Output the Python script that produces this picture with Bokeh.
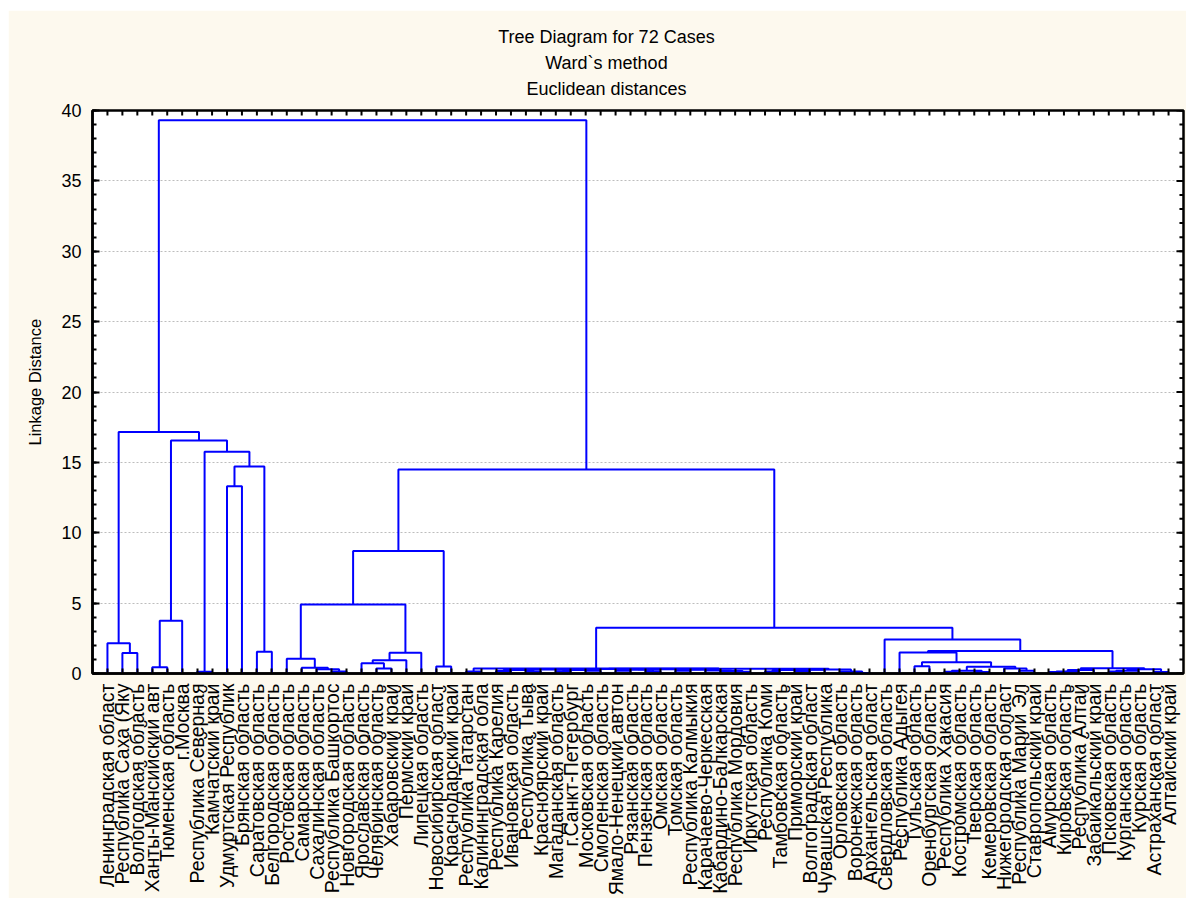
import math
from bokeh.plotting import figure
from bokeh.models import LinearAxis, FixedTicker, Grid, Title, Range1d, ColumnDataSource
from bokeh.embed import file_html
from bokeh.resources import INLINE

# ---------------- data ----------------
leaf_labels = [
    "Ленинградская област", "Республика Саха (Яку", "Вологодская область",
    "Ханты-Мансийский авт", "Тюменская область", "г.Москва",
    "Республика Северная", "Камчатский край", "Удмуртская Республик",
    "Брянская область", "Саратовская область", "Белгородская область",
    "Ростовская область", "Самарская область", "Сахалинская область",
    "Республика Башкортос", "Новгородская область", "Ярославская область",
    "Челябинская область", "Хабаровский край", "Пермский край",
    "Липецкая область", "Новосибирская област", "Краснодарский край",
    "Республика Татарстан", "Калининградская обла", "Республика Карелия",
    "Ивановская область", "Республика Тыва", "Красноярский край",
    "Магаданская область", "г.Санкт-Петербург", "Московская область",
    "Смоленская область", "Ямало-Ненецкий автон", "Рязанская область",
    "Пензенская область", "Омская область", "Томская область",
    "Республика Калмыкия", "Карачаево-Черкесская", "Кабардино-Балкарская",
    "Республика Мордовия", "Иркутская область", "Республика Коми",
    "Тамбовская область", "Приморский край", "Волгоградская област",
    "Чувашская Республика", "Орловская область", "Воронежская область",
    "Архангельская област", "Свердловская область", "Республика Адыгея",
    "Тульская область", "Оренбургская область", "Республика Хакасия",
    "Костромская область", "Тверская область", "Кемеровская область",
    "Нижегородская област", "Республика Марий Эл", "Ставропольский край",
    "Амурская область", "Кировская область", "Республика Алтай",
    "Забайкальский край", "Псковская область", "Курганская область",
    "Курская область", "Астраханская област", "Алтайский край",
]

# merges: leaves are 1..72 (order on the axis), "mK" is the K-th merge
merge_a = [2, 1, 4, "m2", 7, 9, 11, "m5", "m4", "m3", "m1",
           16, 15, 14, 13, 19, 18, "m16", "m17", "m14", 23, "m19",
           25, 27, 29, "m23", 31, 33, "m26", "m25",
           35, 37, "m30", 43, 42, 41, 39, "m36", "m32", "m29",
           45, 47, "m40", "m42", 51, 50, "m43", "m39", "m22",
           55, 57, 59, "m50", 62, 61, "m52", "m49", 54,
           64, "m58", "m59", 68, "m61", 71, "m62", "m60", "m57", 53, "m48", "m21", "m10"]
merge_b = [3, "m0", 5, 6, 8, 10, 12, "m6", "m7", "m8", "m9",
           17, "m11", "m12", "m13", 20, "m15", 21, 22, "m18", 24, "m20",
           26, 28, 30, "m24", 32, 34, "m27", "m28",
           36, 38, "m31", 44, "m33", "m34", 40, "m35", "m37", "m38",
           46, 48, "m41", 49, 52, "m44", "m45", "m46", "m47",
           56, 58, 60, "m51", 63, "m53", "m54", "m55", "m56",
           65, 66, 67, 69, 70, 72, "m63", "m64", "m65", "m66", "m67", "m68", "m69"]
merge_h = [1.45, 2.15, 0.45, 3.75, 0.12, 13.3, 1.55, 14.7, 15.75, 16.55, 17.15,
           0.15, 0.30, 0.40, 1.05, 0.36, 0.72, 0.95, 1.47, 4.9, 0.5, 8.7,
           0.15, 0.18, 0.14, 0.24, 0.16, 0.20, 0.24, 0.29,
           0.20, 0.16, 0.26, 0.12, 0.18, 0.22, 0.20, 0.26, 0.30, 0.32,
           0.15, 0.18, 0.24, 0.27, 0.03, 0.14, 0.29, 0.33, 0.36,
           0.52, 0.12, 0.10, 0.20, 0.20, 0.35, 0.48, 0.80, 1.50,
           0.10, 0.15, 0.25, 0.15, 0.20, 0.10, 0.30, 0.38, 1.60, 2.42, 3.25, 14.5, 39.3]

y_major = [0, 5, 10, 15, 20, 25, 30, 35, 40]
y_minor = list(range(0, 41))
grid_vals = [5, 10, 15, 20, 25, 30, 35]
leaf_pos = list(range(1, len(leaf_labels) + 1))
title_lines = ["Tree Diagram for 72 Cases", "Ward`s method", "Euclidean distances"]
y_title = "Linkage Distance"

# ---------------- build dendrogram segments ----------------
xpos = {i: i for i in leaf_pos}
hpos = {i: 0.0 for i in leaf_pos}
xs, ys = [], []
for k, (a, b, h) in enumerate(zip(merge_a, merge_b, merge_h)):
    xa, xb = xpos[a], xpos[b]
    ha, hb = hpos[a], hpos[b]
    xs.append([xa, xa, xb, xb])
    ys.append([ha, h, h, hb])
    xpos["m%d" % k] = (xa + xb) / 2.0
    hpos["m%d" % k] = h

FONT = "Liberation Sans"
CREAM = "#FDF9EE"
X_MAX = len(leaf_labels) + 1
Y_MAX = y_major[-1]

p = figure(width=1178, height=888, x_range=Range1d(0, X_MAX), y_range=Range1d(0, Y_MAX),
           output_backend="svg", toolbar_location=None, title=None,
           x_axis_location=None, y_axis_location=None,
           min_border_left=84, min_border_right=3, min_border_top=100, min_border_bottom=223)
p.margin = (10, 8, 2, 8)
p.background_fill_color = "white"
p.border_fill_color = CREAM
p.outline_line_color = "black"
p.outline_line_width = 2.5
for r in list(p.center):
    if isinstance(r, Grid):
        r.visible = False

# dashed horizontal grid
g = Grid(dimension=1, ticker=FixedTicker(ticks=grid_vals),
         grid_line_color="#bdbdbd", grid_line_dash="2 2", grid_line_width=1)
p.add_layout(g)

# bottom axis with region names
xb = LinearAxis(ticker=FixedTicker(ticks=leaf_pos),
                major_label_overrides={i: lab for i, lab in zip(leaf_pos, leaf_labels)})
xb.major_label_orientation = math.pi / 2
xb.major_label_text_font = FONT
xb.major_label_text_font_size = "19.5px"
xb.major_label_text_color = "black"
xb.major_tick_in = 5
xb.major_tick_out = 0
xb.major_tick_line_width = 2
xb.axis_line_width = 2.5
xb.major_label_standoff = 10
p.add_layout(xb, "below")

# left axis
yl = LinearAxis(ticker=FixedTicker(ticks=y_major, minor_ticks=y_minor))
yl.major_label_text_font = FONT
yl.major_label_text_font_size = "18px"
yl.major_label_text_color = "black"
yl.major_tick_in = 7
yl.major_tick_out = 0
yl.minor_tick_in = 4
yl.minor_tick_out = 0
yl.major_tick_line_width = 2
yl.minor_tick_line_width = 2
yl.axis_line_width = 2.5
yl.major_label_standoff = 11
p.add_layout(yl, "left")

# y-axis title as a left-side title (offset moves it along the axis)
p.add_layout(Title(text=y_title, align="left", offset=228, text_font=FONT,
                   text_font_size="16.5px", text_font_style="normal",
                   text_color="black", standoff=29), "left")

# three title lines: one label each on label-only axes stacked above the frame
title_x = 34.39          # horizontal centre of the title block (x data units)
title_standoffs = [3, 3, 12]
for txt, so in reversed(list(zip(title_lines, title_standoffs))):
    ta = LinearAxis(ticker=FixedTicker(ticks=[title_x]),
                    major_label_overrides={title_x: txt})
    ta.axis_line_color = None
    ta.major_tick_line_color = None
    ta.minor_tick_line_color = None
    ta.major_tick_in = 0
    ta.major_tick_out = 0
    ta.major_label_standoff = so
    ta.major_label_text_font = FONT
    ta.major_label_text_font_size = "18px"
    ta.major_label_text_color = "black"
    p.add_layout(ta, "above")

# top / right tick marks (ticks only, no labels)
top_len = 0.35      # ~5 px in y units
right_major = 0.47  # ~7 px in x units
right_minor = 0.27  # ~4 px in x units
p.segment(x0=leaf_pos, y0=[Y_MAX] * len(leaf_pos), x1=leaf_pos, y1=[Y_MAX - top_len] * len(leaf_pos),
          line_color="black", line_width=2)
p.segment(x0=[X_MAX] * len(y_major), y0=y_major, x1=[X_MAX - right_major] * len(y_major), y1=y_major,
          line_color="black", line_width=2)
p.segment(x0=[X_MAX] * len(y_minor), y0=y_minor, x1=[X_MAX - right_minor] * len(y_minor), y1=y_minor,
          line_color="black", line_width=2)

# dendrogram
src = ColumnDataSource(data=dict(xs=xs, ys=ys))
p.multi_line(xs="xs", ys="ys", source=src, line_color="#0000FF", line_width=2)

open("out.html", "w", encoding="utf-8").write(file_html(p, INLINE))
